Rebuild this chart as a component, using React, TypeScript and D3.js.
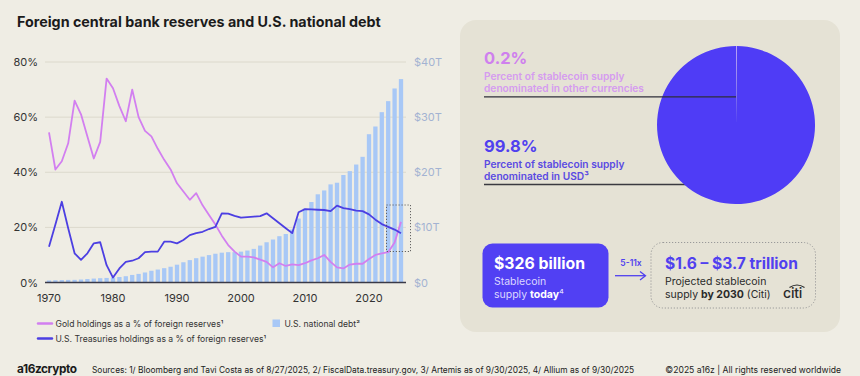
import React from 'react';
import * as d3 from 'd3';

const years = [
  1970, 1971, 1972, 1973, 1974, 1975, 1976, 1977, 1978, 1979,
  1980, 1981, 1982, 1983, 1984, 1985, 1986, 1987, 1988, 1989,
  1990, 1991, 1992, 1993, 1994, 1995, 1996, 1997, 1998, 1999,
  2000, 2001, 2002, 2003, 2004, 2005, 2006, 2007, 2008, 2009,
  2010, 2011, 2012, 2013, 2014, 2015, 2016, 2017, 2018, 2019,
  2020, 2021, 2022, 2023, 2024, 2025,
];

// Gold holdings as % of foreign reserves
const goldPct = [
  54.5, 41, 44, 50.5, 66, 61, 53, 45, 51, 74,
  70.5, 64, 58.5, 70, 60, 55, 53, 48.5, 44.5, 41,
  36, 33, 30, 32.4, 28, 24.5, 21, 17, 13.6, 11.2,
  9.4, 9.4, 9.1, 8.3, 7.5, 5.5, 7, 6, 6.6, 6.3,
  7, 8, 8.8, 10, 7.5, 5.5, 5.1, 6.5, 6.8, 6.8,
  8.5, 10, 10.6, 11, 14.5, 22,
];

// U.S. Treasuries holdings as % of foreign reserves
const treasuryPct = [
  13, 21, 29.3, 19.7, 10.6, 8.2, 10.6, 14.2, 14.6, 6.3,
  1.8, 5.1, 7.5, 7.9, 8.8, 11, 11.2, 11.2, 14.8, 14.8,
  14.2, 15.4, 17.2, 17.9, 18.4, 19.4, 20.2, 25.1, 25, 24.2,
  23.5, 23.7, 23.9, 24.1, 25.1, 23.3, 21.5, 19.7, 17.9, 25.5,
  26.6, 26.5, 26.4, 26.3, 25.9, 27.9, 27, 26.6, 26.1, 25.9,
  24.7, 22.8, 21.2, 20.2, 19.2, 17.9,
];

// U.S. national debt, trillions USD
const debtT = [
  0.37, 0.41, 0.44, 0.47, 0.48, 0.54, 0.63, 0.71, 0.78, 0.83,
  0.91, 1.0, 1.14, 1.37, 1.56, 1.82, 2.13, 2.35, 2.6, 2.86,
  3.23, 3.67, 4.06, 4.41, 4.69, 4.97, 5.22, 5.41, 5.5, 5.5,
  5.6, 5.8, 6.1, 6.7, 7.3, 7.8, 8.4, 8.8, 9.6, 11.6,
  13.4, 14.6, 16.0, 16.7, 17.8, 18.1, 19.5, 20.2, 21.4, 22.8,
  26.9, 28.3, 30.9, 32.9, 35.2, 36.9,
];

const xTicks = [1970, 1980, 1990, 2000, 2010, 2020];
const pctTicks = [0, 20, 40, 60, 80];
const pctTickLabels = ['0%', '20%', '40%', '60%', '80%'];
const debtTicks = [0, 10, 20, 30, 40];
const debtTickLabels = ['$0', '$10T', '$20T', '$30T', '$40T'];

const shareLabels = ['Other currencies', 'USD'];
const shareValues = [0.2, 99.8];

const FONT = "Inter, 'Noto Sans', 'DejaVu Sans', sans-serif";
const BG = '#efede4';
const PANEL = '#e5e2d5';
const GOLD = '#d27ff0';
const TREAS = '#4c3fe2';
const BAR = '#a8c8f6';
const INDIGO = '#5040ef';

export default function App() {
  const x = d3.scaleLinear().domain([1970, 2025]).range([49, 401]);
  const yL = d3.scaleLinear().domain([0, 80]).range([282.5, 62]);
  const yR = d3.scaleLinear().domain([0, 40]).range([282.5, 62]);
  const barW = 4.3;

  const lineGen = d3
    .line<number>()
    .x((_, i) => x(years[i]))
    .y((d) => yL(d));

  const pie = d3.pie<number>().sort(null).startAngle(0).endAngle(2 * Math.PI);
  const arcs = pie(shareValues);
  const arcGen = d3.arc<d3.PieArcDatum<number>>().innerRadius(0).outerRadius(79);
  const pieCx = 736;
  const pieCy = 125;

  return (
    <svg
      width={860}
      height={376}
      viewBox="0 0 860 376"
      style={{ position: 'absolute', left: 0, top: 0, display: 'block' }}
      fontFamily={FONT}
    >
      <rect x={0} y={0} width={860} height={376} fill={BG} />

      {/* Title */}
      <text x={17} y={27} fontSize={14.3} fontWeight={700} fill="#1b1b1b">
        Foreign central bank reserves and U.S. national debt
      </text>

      {/* Grid */}
      {pctTicks.slice(1).map((t) => (
        <line key={t} x1={45} x2={406} y1={yL(t)} y2={yL(t)} stroke="#dcd9cc" strokeWidth={1} />
      ))}

      {/* Bars */}
      {debtT.map((d, i) => (
        <rect
          key={years[i]}
          x={x(years[i]) - barW / 2}
          y={yR(d)}
          width={barW}
          height={yR(0) - yR(d)}
          fill={BAR}
        />
      ))}

      {/* Baseline */}
      <line x1={45} x2={406} y1={yL(0)} y2={yL(0)} stroke="#3a3a48" strokeWidth={1.4} />

      {/* Lines */}
      <path d={lineGen(goldPct) || ''} fill="none" stroke={GOLD} strokeWidth={1.8} strokeLinejoin="round" />
      <path d={lineGen(treasuryPct) || ''} fill="none" stroke={TREAS} strokeWidth={1.8} strokeLinejoin="round" />

      {/* Dotted highlight box */}
      <rect
        x={386.5}
        y={205}
        width={24}
        height={46.5}
        fill="none"
        stroke="#555"
        strokeWidth={0.9}
        strokeDasharray="1.2 1.8"
      />

      {/* Left axis labels */}
      {pctTicks.map((t, i) => (
        <text key={t} x={38} y={yL(t) + 4} fontSize={11} fill="#333" textAnchor="end">
          {pctTickLabels[i]}
        </text>
      ))}

      {/* Right axis labels */}
      {debtTicks.map((t, i) => (
        <text key={t} x={414} y={yR(t) + 4} fontSize={11} fill="#a3b3d2" textAnchor="start">
          {debtTickLabels[i]}
        </text>
      ))}

      {/* X labels */}
      {xTicks.map((t) => (
        <text key={t} x={x(t)} y={302} fontSize={11} fill="#333" textAnchor="middle">
          {t}
        </text>
      ))}

      {/* Legend */}
      <line x1={38} x2={52} y1={323.5} y2={323.5} stroke={GOLD} strokeWidth={2.4} strokeLinecap="round" />
      <text x={55.5} y={326.6} fontSize={8.6} fill="#333">
        Gold holdings as a % of foreign reserves¹
      </text>
      <line x1={38} x2={52} y1={338.5} y2={338.5} stroke={TREAS} strokeWidth={2.4} strokeLinecap="round" />
      <text x={55.5} y={341.6} fontSize={8.6} fill="#333">
        U.S. Treasuries holdings as a % of foreign reserves¹
      </text>
      <rect x={272.5} y={319.5} width={7.5} height={7.5} fill={BAR} />
      <text x={284.5} y={326.6} fontSize={8.6} fill="#333">
        U.S. national debt²
      </text>

      {/* Footer */}
      <text x={17} y={372.5} fontSize={11.8} fontWeight={700} fill="#1b1b1b" letterSpacing={-0.4}>
        a16zcrypto
      </text>
      <text x={92} y={372.5} fontSize={8.4} fill="#222">
        Sources: 1/ Bloomberg and Tavi Costa as of 8/27/2025, 2/ FiscalData.treasury.gov, 3/ Artemis as of 9/30/2025, 4/ Allium as of 9/30/2025
      </text>
      <text x={841} y={372.5} fontSize={8.6} fill="#222" textAnchor="end">
        ©2025 a16z | All rights reserved worldwide
      </text>

      {/* Right panel */}
      <rect x={460} y={20} width={380} height={312} rx={16} fill={PANEL} />

      {/* Pie labels */}
      <text x={484} y={64} fontSize={16.5} fontWeight={700} fill="#cf80ee">
        0.2%
      </text>
      <text x={484} y={80} fontSize={10.2} fontWeight={600} fill="#d59bf0">
        Percent of stablecoin supply
      </text>
      <text x={484} y={92} fontSize={10.2} fontWeight={600} fill="#d59bf0">
        denominated in other currencies
      </text>

      <text x={484} y={152} fontSize={16.5} fontWeight={700} fill={INDIGO}>
        99.8%
      </text>
      <text x={484} y={168} fontSize={10.2} fontWeight={600} fill="#5a4ae2">
        Percent of stablecoin supply
      </text>
      <text x={484} y={180} fontSize={10.2} fontWeight={600} fill="#5a4ae2">
        denominated in USD³
      </text>

      <line x1={484} x2={700} y1={184.5} y2={184.5} stroke="#3a3a40" strokeWidth={1.3} />

      {/* Pie */}
      <g transform={`translate(${pieCx},${pieCy})`}>
        {arcs.map((a, i) => (
          <path key={shareLabels[i]} d={arcGen(a) || ''} fill={i === 0 ? '#b9a2f8' : '#4f3cf6'} />
        ))}
      </g>

      <line x1={484} x2={pieCx} y1={96.8} y2={96.8} stroke="#2e2e38" strokeWidth={1.3} />

      {/* $326 billion box */}
      <rect x={482.5} y={243.5} width={126} height={64} rx={10} fill="#5140f3" />
      <text x={494} y={268.5} fontSize={15.8} fontWeight={700} fill="#ffffff">
        $326 billion
      </text>
      <text x={494} y={285} fontSize={10.5} fill="#dcd8ff">
        Stablecoin
      </text>
      <text x={494} y={297.5} fontSize={10.5} fill="#dcd8ff">
        supply <tspan fontWeight={700} fill="#ffffff">today</tspan>⁴
      </text>

      {/* Arrow */}
      <text x={631} y={266} fontSize={8.5} fontWeight={600} fill={INDIGO} textAnchor="middle">
        5-11x
      </text>
      <line x1={615} x2={645} y1={275.7} y2={275.7} stroke={INDIGO} strokeWidth={1.3} />
      <path d="M640,271.5 L645.5,275.7 L640,279.9" fill="none" stroke={INDIGO} strokeWidth={1.3} />

      {/* Projected box */}
      <rect
        x={651}
        y={242.5}
        width={164.5}
        height={65.5}
        rx={12}
        fill="none"
        stroke="#9a9a9a"
        strokeWidth={1}
        strokeDasharray="1.2 1.8"
      />
      <text x={665} y={268.5} fontSize={15.6} fontWeight={700} fill={INDIGO}>
        $1.6 – $3.7 trillion
      </text>
      <text x={665} y={285} fontSize={10.5} fill="#2a2a2a">
        Projected stablecoin
      </text>
      <text x={665} y={297.5} fontSize={10.5} fill="#2a2a2a">
        supply <tspan fontWeight={700}>by 2030</tspan> (Citi)
      </text>
      {/* citi logo */}
      <text x={783} y={298} fontSize={14} fontWeight={500} fill="#2a2a2a" letterSpacing={-0.2}>
        citi
      </text>
      <path d="M789.5,287.5 Q797,282.5 804.5,287.5" fill="none" stroke="#2a2a2a" strokeWidth={1.2} />
    </svg>
  );
}
